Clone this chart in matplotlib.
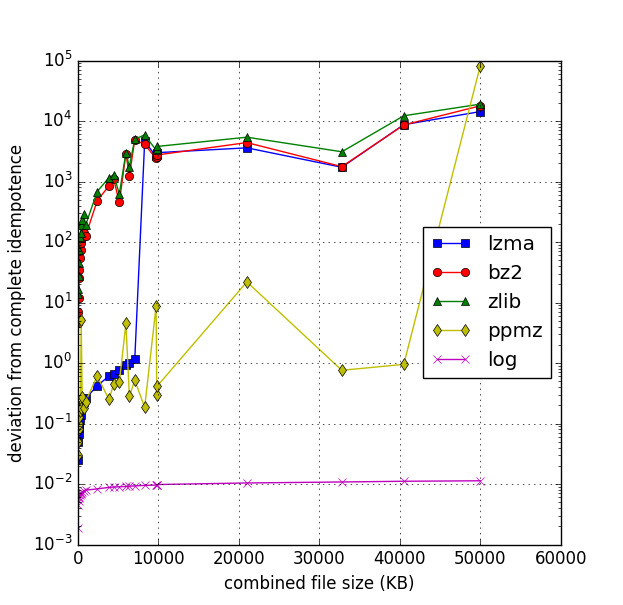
"""Deviation from complete idempotence vs combined file size, per compressor."""

import matplotlib

matplotlib.use("Agg")
import matplotlib.pyplot as plt

plt.style.use("classic")

# combined file size (KB), shared by every series
size_kb = [25, 60, 100, 150, 200, 260, 330, 410, 540, 710, 960,
           2400, 3870, 4450, 5150, 5970, 6400, 7070, 8300,
           9720, 9810, 9890, 21000, 32800, 40500, 50000]

lzma = [0.025, 0.05, 0.068, 0.085, 0.1, 0.12, 0.14, 0.18, 0.2, 0.23, 0.26,
        0.42, 0.61, 0.66, 0.77, 0.91, 1.0, 1.15, 4600,
        2600, 2700, 3000, 3600, 1720, 8700, 14300]
bz2 = [4.5, 7, 12, 25, 34, 55, 75, 95, 118, 140, 126,
       480, 850, 1100, 450, 2900, 1240, 4900, 4100,
       2400, 2500, 2750, 4400, 1760, 8600, 17800]
zlib = [14, 17, 27, 45, 75, 120, 140, 190, 230, 290, 190,
        680, 1160, 1300, 620, 3000, 1760, 5000, 5900,
        3300, 3500, 3800, 5400, 3100, 12200, 19000]
ppmz = [0.03, 0.05, 0.08, 0.1, 0.13, 0.16, 0.18, 5.1, 0.27, 0.18, 0.23,
        0.61, 0.25, 0.45, 0.48, 4.5, 0.28, 0.52, 0.185,
        8.7, 0.30, 0.42, 21.9, 0.757, 0.95, 81000]
log = [0.0019, 0.0045, 0.0052, 0.0058, 0.0062, 0.0066, 0.0069, 0.0071,
       0.0074, 0.0077, 0.0079, 0.0083, 0.0088, 0.0089, 0.0090, 0.0091,
       0.0092, 0.0093, 0.0095, 0.0096, 0.0097, 0.0098, 0.0104, 0.0108,
       0.0111, 0.0113]

fig, ax = plt.subplots(figsize=(6.23, 6.05), dpi=100)
ax.plot(size_kb, lzma, "bs-", mec="k", mew=0.5, label="lzma")
ax.plot(size_kb, bz2, "ro-", mec="k", mew=0.5, label="bz2")
ax.plot(size_kb, zlib, "g^-", mec="k", mew=0.5, label="zlib")
ax.plot(size_kb, ppmz, "yd-", mec="k", mew=0.5, label="ppmz")
ax.plot(size_kb, log, "mx-", label="log")

ax.set_yscale("log")
ax.set_xlim(0, 60000)
ax.set_ylim(1e-3, 1e5)
ax.grid(True)
ax.set_xlabel("combined file size (KB)")
ax.set_ylabel("deviation from complete idempotence")
ax.legend(loc="center right")

fig.savefig("out.png", dpi=100)
